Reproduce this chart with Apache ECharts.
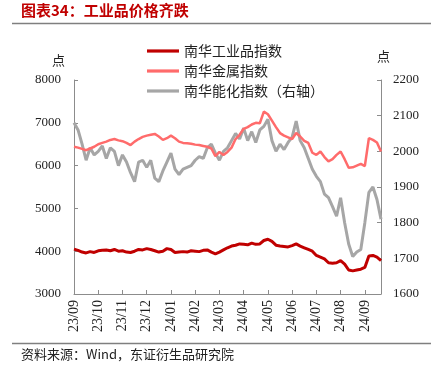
<!DOCTYPE html>
<html><head><meta charset="utf-8">
<script src="https://cdn.jsdelivr.net/npm/echarts@6/dist/echarts.min.js"></script>
<style>html,body{margin:0;padding:0;background:#fff}#c{width:431px;height:373px}</style>
</head><body><div id="c"></div>
<script>
var monthLabels = ['23/09','23/10','23/11','23/12','24/01','24/02','24/03','24/04','24/05','24/06','24/07','24/08','24/09'];
var pointsPerMonth = 6;
var industrial = [4050,4020,3980,3960,3990,3970,4010,4020,4030,4010,4040,4000,4010,3980,3970,4000,4040,4030,4060,4040,4010,3980,4000,4060,4040,3970,3980,3990,3980,4010,4000,3990,4020,4030,3980,3940,3980,4030,4080,4120,4140,4170,4160,4150,4190,4160,4170,4250,4280,4230,4140,4120,4110,4100,4130,4170,4120,4080,4040,4000,3900,3860,3820,3730,3720,3730,3780,3700,3560,3540,3560,3580,3620,3890,3900,3860,3780];
var metal = [6440,6420,6390,6360,6400,6440,6500,6530,6560,6600,6620,6590,6570,6530,6480,6560,6620,6670,6700,6720,6740,6680,6600,6640,6700,6640,6560,6530,6520,6510,6490,6480,6460,6440,6400,6220,6320,6250,6320,6420,6620,6720,6860,6900,6960,7000,6990,7260,7200,7050,6900,6760,6700,6660,6620,6760,6680,6580,6530,6300,6250,6330,6200,6100,6150,6250,6330,6150,5950,5960,6000,6040,5990,6640,6600,6540,6330];
var chemical = [2080,2060,2020,1975,2010,1990,2000,2015,1980,2010,2000,1960,1990,1970,1940,1915,1970,1975,1955,1975,1925,1915,1945,1970,1995,1950,1935,1950,1955,1960,1975,1985,1980,2010,2020,1995,1975,2000,2010,2030,2050,2035,2065,2030,2055,2025,2060,2070,2090,2030,2000,2020,2005,2025,2040,2085,2030,2010,1980,1950,1930,1915,1880,1870,1845,1818,1870,1800,1740,1705,1718,1725,1800,1885,1900,1865,1810];
var seriesNames = ['南华工业品指数','南华金属指数','南华能化指数（右轴）'];

var categories = industrial.map(function(v,i){
  var m = Math.floor(i/pointsPerMonth);
  return (monthLabels[m] || '') + '#' + i;
});

var serif = '"Liberation Serif","DejaVu Serif",serif';
var cjk = '"Noto Sans CJK SC","Noto Sans",sans-serif';
var chart = echarts.init(document.getElementById('c'), null, {renderer:'canvas'});
var lineIcon = 'path://M0,0 L10,0 L10,1 L0,1 Z';
chart.setOption({
  animation:false,
  backgroundColor:'#fff',
  grid:{left:74,right:50,top:80,bottom:79,containLabel:false},
  legend:{
    orient:'vertical', left:142, top:39, itemGap:6, itemWidth:32, itemHeight:15,
    textStyle:{fontFamily:cjk, fontSize:14, color:'#222'},
    data:[
      {name:seriesNames[0], icon:lineIcon, itemStyle:{color:'#C00000'}},
      {name:seriesNames[1], icon:lineIcon, itemStyle:{color:'#FF6B6B'}},
      {name:seriesNames[2], icon:lineIcon, itemStyle:{color:'#A6A6A6'}}
    ]
  },
  xAxis:{
    type:'category', data:categories, boundaryGap:false,
    axisLine:{lineStyle:{color:'#8c8c8c', width:1}},
    axisTick:{show:true, inside:true, length:4, interval:pointsPerMonth-1, lineStyle:{color:'#8c8c8c'}},
    axisLabel:{interval:pointsPerMonth-1, rotate:90, margin:6, fontFamily:serif, fontSize:14, color:'#222',
      formatter:function(v){return v.split('#')[0];}},
    splitLine:{show:false}
  },
  yAxis:[
    {type:'value', min:3000, max:8000, interval:1000, position:'left',
     axisLine:{show:true, lineStyle:{color:'#8c8c8c'}},
     axisTick:{show:true, inside:true, length:4, lineStyle:{color:'#8c8c8c'}},
     axisLabel:{fontFamily:serif, fontSize:13, color:'#222', margin:13, formatter:function(v){return String(v);}},
     splitLine:{show:false}},
    {type:'value', min:1600, max:2200, interval:100, position:'right',
     axisLine:{show:true, lineStyle:{color:'#8c8c8c'}},
     axisTick:{show:true, inside:true, length:4, lineStyle:{color:'#8c8c8c'}},
     axisLabel:{fontFamily:serif, fontSize:13, color:'#222', margin:12, formatter:function(v){return String(v);}},
     splitLine:{show:false}}
  ],
  series:[
    {name:seriesNames[2], type:'line', yAxisIndex:1, data:chemical, symbol:'none', z:2,
     lineStyle:{color:'#A6A6A6', width:3}, itemStyle:{color:'#A6A6A6'}},
    {name:seriesNames[1], type:'line', yAxisIndex:0, data:metal, symbol:'none', z:3,
     lineStyle:{color:'#FF6B6B', width:2.5}, itemStyle:{color:'#FF6B6B'}},
    {name:seriesNames[0], type:'line', yAxisIndex:0, data:industrial, symbol:'none', z:4,
     lineStyle:{color:'#C00000', width:3}, itemStyle:{color:'#C00000'}}
  ],
  graphic:[
    {type:'text', left:21, top:3, style:{text:'图表34：工业品价格齐跌', fill:'#C00000', font:'bold 15px "Noto Sans CJK SC",sans-serif'}},
    {type:'line', shape:{x1:12,y1:23.5,x2:431,y2:23.5}, style:{stroke:'#7f7f7f', lineWidth:1.5}},
    {type:'text', left:52, top:54, style:{text:'点', fill:'#222', font:'13px "Noto Sans CJK SC",sans-serif'}},
    {type:'text', left:377, top:50, style:{text:'点', fill:'#222', font:'13px "Noto Sans CJK SC",sans-serif'}},
    {type:'line', shape:{x1:12,y1:343.5,x2:431,y2:343.5}, style:{stroke:'#7f7f7f', lineWidth:1.5}},
    {type:'text', left:21, top:348, style:{text:'资料来源：Wind，东证衍生品研究院', fill:'#222', font:'13px "Noto Sans CJK SC",sans-serif'}}
  ]
});
</script></body></html>
